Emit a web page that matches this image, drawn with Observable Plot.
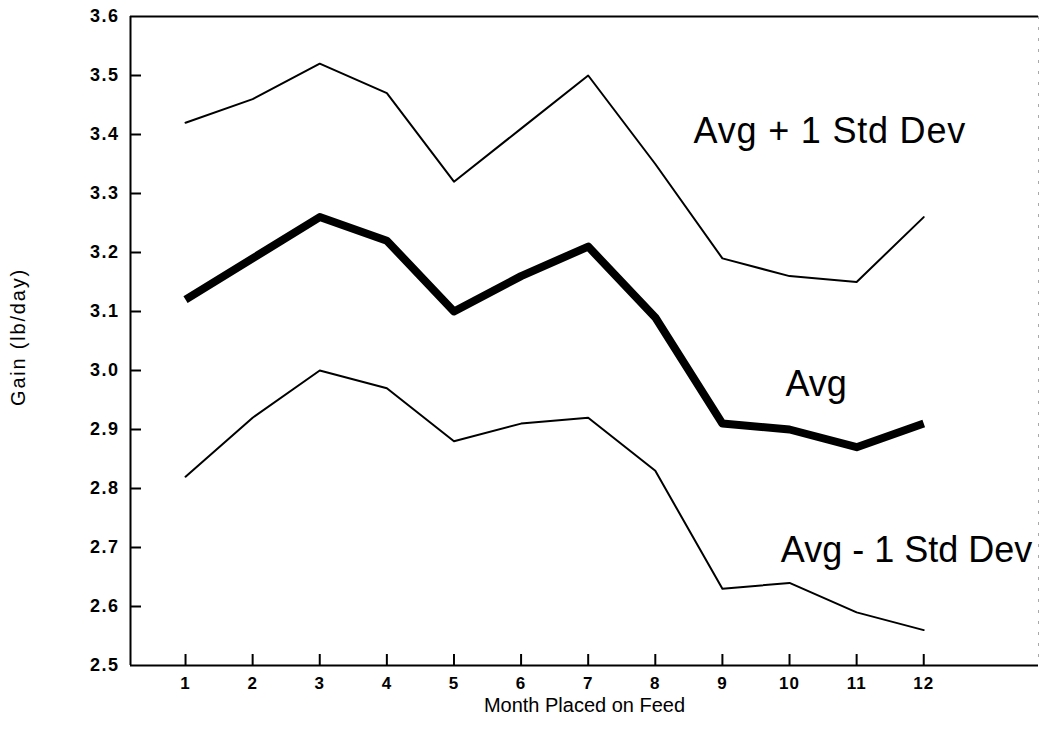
<!DOCTYPE html>
<html>
<head>
<meta charset="utf-8">
<script src="https://cdn.jsdelivr.net/npm/d3@7"></script>
<script src="https://cdn.jsdelivr.net/npm/@observablehq/plot@0.6"></script>
<style>
  html, body { margin: 0; padding: 0; background: #fff; }
  g[aria-label="y-axis tick label"] text { letter-spacing: 1.5px; }
  g[aria-label="x-axis tick label"] text { letter-spacing: 1px; }
  g.plus-label text { letter-spacing: 0.8px; }
  g.y-title text { letter-spacing: 1.8px; }
</style>
</head>
<body>
<div id="chart"></div>
<script>
const months = [1, 2, 3, 4, 5, 6, 7, 8, 9, 10, 11, 12];
const avgPlus = [3.42, 3.46, 3.52, 3.47, 3.32, 3.41, 3.50, 3.35, 3.19, 3.16, 3.15, 3.26];
const avg     = [3.12, 3.19, 3.26, 3.22, 3.10, 3.16, 3.21, 3.09, 2.91, 2.90, 2.87, 2.91];
const avgMinus= [2.82, 2.92, 3.00, 2.97, 2.88, 2.91, 2.92, 2.83, 2.63, 2.64, 2.59, 2.56];
const yTicks = [2.5, 2.6, 2.7, 2.8, 2.9, 3.0, 3.1, 3.2, 3.3, 3.4, 3.5, 3.6];
const yInnerTicks = [2.6, 2.7, 2.8, 2.9, 3.0, 3.1, 3.2, 3.3, 3.4, 3.5];
const plusLabel = [{text: "Avg + 1 Std Dev", month: 8.57, gain: 3.405}];
const otherLabels = [
  {text: "Avg", month: 9.94, gain: 2.977},
  {text: "Avg - 1 Std Dev", month: 9.87, gain: 2.695}
];

const xDomain = [0.18, 13.71];
const yDomain = [2.5, 3.6];

const W = 1039, H = 743;
const mL = 130, mR = 1, mT = 16, mB = 78;
const tickLen = 11;

const rows = (vals) => months.map((m, i) => ({month: m, gain: vals[i]}));

const chart = Plot.plot({
  width: W,
  height: H,
  marginLeft: mL,
  marginRight: mR,
  marginTop: mT,
  marginBottom: mB,
  style: {fontFamily: "'Liberation Sans', Arial, sans-serif", background: "#fff", color: "#000"},
  x: {domain: xDomain},
  y: {domain: yDomain},
  marks: [
    Plot.axisY(yTicks, {tickSize: 0, tickPadding: 11, tickFormat: d => d.toFixed(1), fontSize: 18, fontWeight: "bold", label: null}),
    Plot.axisX(months, {tickSize: 0, tickPadding: 11, tickFormat: d => String(d), fontSize: 17, fontWeight: "bold", label: null}),
    // inward-pointing ticks drawn from the frame edge
    Plot.tickY(yInnerTicks, {y: d => d, stroke: "#000", strokeWidth: 2, insetRight: W - mL - mR - tickLen}),
    Plot.tickX(months, {x: d => d, stroke: "#000", strokeWidth: 2, insetTop: H - mT - mB - tickLen}),
    Plot.ruleX([xDomain[0]], {stroke: "#000", strokeWidth: 2}),
    Plot.ruleY([yDomain[0]], {stroke: "#000", strokeWidth: 2}),
    Plot.ruleY([yDomain[1]], {stroke: "#000", strokeWidth: 2}),
    Plot.ruleX([xDomain[1]], {stroke: "#aaa", strokeWidth: 1, strokeDasharray: "3 8"}),
    Plot.line(rows(avgPlus), {x: "month", y: "gain", stroke: "#000", strokeWidth: 2}),
    Plot.line(rows(avgMinus), {x: "month", y: "gain", stroke: "#000", strokeWidth: 2}),
    Plot.line(rows(avg), {x: "month", y: "gain", stroke: "#000", strokeWidth: 8, strokeLinecap: "butt"}),
    Plot.text(plusLabel, {x: "month", y: "gain", text: "text", textAnchor: "start", fontSize: 36, fill: "#000", className: "plus-label"}),
    Plot.text(otherLabels, {x: "month", y: "gain", text: "text", textAnchor: "start", fontSize: 36, fill: "#000"}),
    Plot.text(["Month Placed on Feed"], {frameAnchor: "bottom", textAnchor: "middle", dy: 46, fontSize: 20, fill: "#000"}),
    Plot.text(["Gain (lb/day)"], {frameAnchor: "left", textAnchor: "middle", dx: -112, dy: -4, rotate: -90, fontSize: 20, fill: "#000", className: "y-title"})
  ]
});
document.getElementById("chart").append(chart);
</script>
</body>
</html>
